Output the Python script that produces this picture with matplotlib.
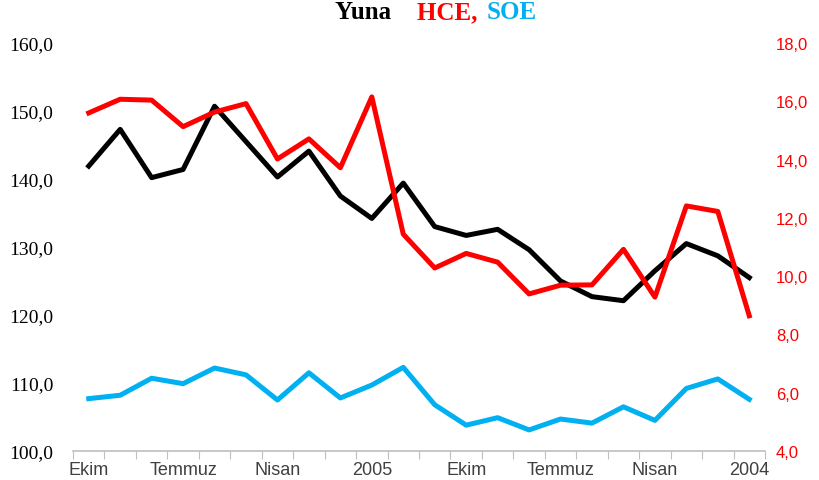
import numpy as np
import matplotlib.pyplot as plt
from matplotlib.ticker import FuncFormatter

# monthly data, Ocak 2004 - Ekim 2005 (chronological order)
months = ["2004", "Şubat", "Mart", "Nisan", "Mayıs", "Haziran", "Temmuz", "Ağustos",
          "Eylül", "Ekim", "Kasım", "Aralık", "2005", "Şubat", "Mart", "Nisan",
          "Mayıs", "Haziran", "Temmuz", "Ağustos", "Eylül", "Ekim"]
label_every = 3

black_vals = [125.5, 128.7, 130.5, 126.5, 122.1, 122.7, 125.0, 129.6, 132.6, 131.7, 133.0,
              139.4, 134.2, 137.5, 144.1, 140.3, 145.5, 150.7, 141.4, 140.2, 147.3, 141.9]
red_vals = [8.64, 12.22, 12.41, 9.28, 10.92, 9.70, 9.69, 9.39, 10.48, 10.78, 10.28,
            11.44, 16.15, 13.72, 14.71, 14.02, 15.92, 15.63, 15.13, 16.04, 16.07, 15.6]
blue_vals = [107.6, 110.6, 109.2, 104.5, 106.5, 104.1, 104.7, 103.1, 104.9, 103.8, 106.8,
             112.3, 109.7, 107.8, 111.5, 107.5, 111.2, 112.2, 109.9, 110.7, 108.2, 107.7]

title_parts = [("Yuna ", "black"), ("HCE, ", "#ff0000"), ("SOE", "#00b0f0")]

left_ticks = np.arange(100, 161, 10)
right_ticks = np.arange(4, 19, 2)

x = np.arange(len(months))

fig = plt.figure(figsize=(8.2, 4.81), dpi=100)
ax = fig.add_axes([73 / 820, 1 - 452 / 481, (765 - 73) / 820, 408 / 481])
ax2 = ax.twinx()

ax.plot(x, black_vals, color="black", lw=3.6, solid_joinstyle="round")
ax.plot(x, blue_vals, color="#00b0f0", lw=3.6, solid_joinstyle="round")
ax2.plot(x, red_vals, color="#ff0000", lw=3.6, solid_joinstyle="round")

ax.set_xlim(-0.5, len(months) - 0.5)
ax.invert_xaxis()
ax.set_ylim(100, 160)
ax2.set_ylim(4, 18)

comma = FuncFormatter(lambda v, p: f"{v:.1f}".replace(".", ","))
ax.set_yticks(left_ticks)
ax.yaxis.set_major_formatter(comma)
ax2.set_yticks(right_ticks)
ax2.yaxis.set_major_formatter(comma)

ax.tick_params(axis="y", length=0, pad=14, labelsize=14, labelcolor="black")
for lab in ax.get_yticklabels():
    lab.set_family("Liberation Serif")
ax2.tick_params(axis="y", length=0, pad=8, labelsize=12, labelcolor="#ff0000")
for lab in ax2.get_yticklabels():
    lab.set_family("Liberation Sans")

# ticks between categories, labels every third month
ax.set_xticks(np.arange(-0.5, len(months), 1))
ax.set_xticklabels([])
ax.tick_params(axis="x", which="major", length=6, color="#bfbfbf", direction="out")
pos = x[::label_every]
ax.set_xticks(pos, minor=True)
ax.set_xticklabels([months[i] for i in pos], minor=True, fontsize=13,
                   color="#404040", family="Liberation Sans")
ax.tick_params(axis="x", which="minor", length=0, pad=7)

for a in (ax, ax2):
    for s in ("top", "left", "right", "bottom"):
        a.spines[s].set_visible(False)
ax.spines["bottom"].set_visible(True)
ax.spines["bottom"].set_color("#bfbfbf")
ax.spines["bottom"].set_linewidth(1.2)

# coloured title, one word per series
xpos = [335 / 820, 417 / 820, 487 / 820]
for (txt, col), xp in zip(title_parts, xpos):
    fig.text(xp, 1 - 19 / 481, txt, color=col, fontsize=18, fontweight="bold",
             family="Liberation Serif", ha="left", va="baseline")

fig.savefig("out.png", dpi=100)
